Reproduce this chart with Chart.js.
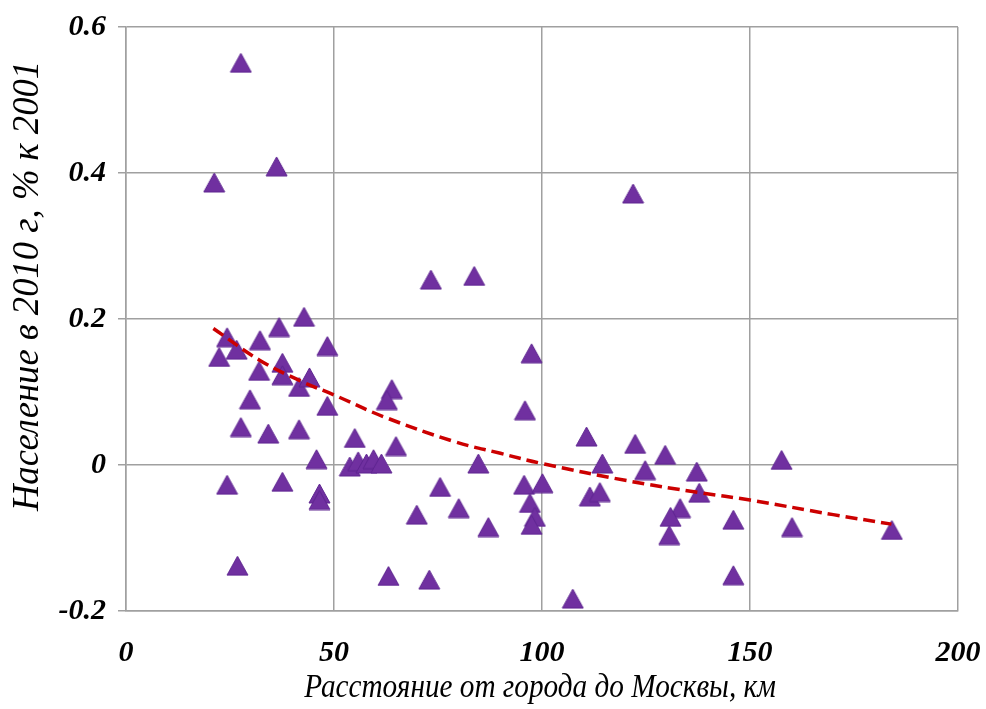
<!DOCTYPE html>
<html>
<head>
  <title>Население и расстояние до Москвы</title>
  <script src="https://cdn.jsdelivr.net/npm/chart.js"></script>
  <style>
    html, body { margin: 0; padding: 0; background: #fff; }
    #wrap { width: 986px; height: 709px; }
  </style>
</head>
<body>
  <div id="wrap"><canvas id="myChart" width="986" height="709"></canvas></div>
  <script>
    // расстояние от города до Москвы, км
    const distKm = [27.6, 21.2, 36.2, 121.9, 73.3, 83.7, 24.3, 22.4, 26.6, 32.2,
      36.8, 42.8, 48.4, 32.0, 37.6, 37.6, 41.6, 44.1, 29.8, 48.4,
      27.6, 34.2, 41.6, 45.8, 24.3, 37.6, 46.5, 46.5, 26.8, 63.1,
      72.9, 63.9, 62.7, 55.0, 64.9, 53.8, 55.8, 57.8, 59.5, 61.4,
      84.7, 75.5, 69.9, 80.0, 87.1, 97.5, 95.9, 95.7, 100.1, 97.1,
      98.3, 97.5, 107.4, 110.7, 114.5, 111.5, 113.9, 122.4, 124.8, 129.6,
      137.2, 137.8, 133.2, 130.9, 130.6, 146.0, 146.0, 157.6, 160.1, 184.1];
    // население в 2010 г, % к 2001
    const popChange = [0.551, 0.387, 0.409, 0.372, 0.254, 0.259, 0.175, 0.148, 0.158, 0.171,
      0.189, 0.203, 0.163, 0.129, 0.140, 0.123, 0.107, 0.120, 0.090, 0.081,
      0.052, 0.043, 0.049, 0.008, -0.027, -0.023, -0.039, -0.048, -0.138, -0.152,
      -0.157, 0.104, 0.089, 0.037, 0.026, -0.002, 0.005, 0.002, 0.008, 0.002,
      0.002, -0.030, -0.068, -0.059, -0.085, 0.153, 0.075, -0.027, -0.025, -0.052,
      -0.071, -0.082, -0.183, 0.039, 0.002, -0.043, -0.037, 0.029, -0.007, 0.014,
      -0.009, -0.038, -0.059, -0.071, -0.096, -0.075, -0.151, 0.007, -0.085, -0.089];
    // линия тренда
    const trendX = [21, 32, 42, 50, 62, 79, 90, 100, 120, 138, 150, 170, 184];
    const trendY = [0.187, 0.144, 0.115, 0.096, 0.066, 0.032, 0.016, 0.002, -0.021, -0.038, -0.048, -0.068, -0.081];

    const xTicks = [0, 50, 100, 150, 200];
    const yTicks = [-0.2, 0, 0.2, 0.4, 0.6];
    const yTickLabels = ['-0.2', '0', '0.2', '0.4', '0.6'];

    const xTitle = 'Расстояние от города до Москвы, км';
    const yTitle = 'Население в 2010 г, % к 2001';

    // треугольник с центром по середине габарита, как в Excel
    const tri = document.createElement('canvas');
    tri.width = 23; tri.height = 21;
    const tctx = tri.getContext('2d');
    tctx.beginPath();
    tctx.moveTo(11.5, 1);
    tctx.lineTo(22, 20);
    tctx.lineTo(1, 20);
    tctx.closePath();
    tctx.fillStyle = '#7030a0';
    tctx.fill();
    tctx.strokeStyle = '#5e2590';
    tctx.lineWidth = 1;
    tctx.stroke();

    const gridColor = '#a0a0a0';
    const tickFont = { family: "'Liberation Serif', 'Times New Roman', serif", size: 30, style: 'italic', weight: 'bold' };

    const titlesPlugin = {
      id: 'titles',
      afterDraw(chart) {
        const c = chart.ctx;
        c.save();
        c.fillStyle = '#000';
        c.textAlign = 'center';
        c.textBaseline = 'middle';
        // подпись X, чуть сжата по ширине
        c.save();
        c.font = "italic 34px 'Liberation Serif', serif";
        c.translate(540, 688);
        c.scale(0.86, 1);
        c.fillText(xTitle, 0, 0);
        c.restore();
        // подпись Y
        c.font = "italic 37px 'Liberation Serif', serif";
        c.translate(28, 286);
        c.rotate(-Math.PI / 2);
        c.scale(0.99, 1);
        c.fillText(yTitle, 0, 0);
        c.restore();
      }
    };

    var ctx = document.getElementById('myChart').getContext('2d');
    var myChart = new Chart(ctx, {
      type: 'scatter',
      data: {
        datasets: [{
          label: 'Города',
          data: distKm.map((x, i) => ({ x: x, y: popChange[i] })),
          pointStyle: tri,
          pointRadius: 10,
          order: 2
        }, {
          label: 'Тренд',
          type: 'line',
          data: trendX.map((x, i) => ({ x: x, y: trendY[i] })),
          borderColor: '#cc0000',
          borderWidth: 3.5,
          borderDash: [12, 6],
          pointRadius: 0,
          tension: 0.4,
          fill: false,
          order: 1
        }]
      },
      options: {
        responsive: false,
        animation: false,
        layout: { padding: { top: 27, right: 28, left: 0, bottom: 0 } },
        plugins: {
          legend: { display: false },
          tooltip: { enabled: false }
        },
        scales: {
          x: {
            type: 'linear',
            min: 0,
            max: 200,
            afterBuildTicks: s => { s.ticks = xTicks.map(v => ({ value: v })); },
            afterFit: s => { s.height = 98; s.paddingLeft = 0; s.paddingRight = 0; },
            grid: { color: gridColor, lineWidth: 1.5, drawTicks: false },
            border: { color: gridColor, width: 1.5 },
            ticks: { font: tickFont, color: '#000', padding: 24, maxRotation: 0 }
          },
          y: {
            type: 'linear',
            min: -0.2,
            max: 0.6,
            afterBuildTicks: s => { s.ticks = yTicks.map(v => ({ value: v })); },
            afterFit: s => { s.width = 126; s.paddingTop = 0; s.paddingBottom = 0; },
            grid: { color: gridColor, lineWidth: 1.5, tickLength: 8 },
            border: { color: gridColor, width: 1.5 },
            ticks: {
              font: tickFont,
              color: '#000',
              padding: 12,
              callback: v => yTickLabels[yTicks.findIndex(t => Math.abs(t - v) < 1e-9)]
            }
          }
        }
      },
      plugins: [titlesPlugin]
    });
  </script>
</body>
</html>
